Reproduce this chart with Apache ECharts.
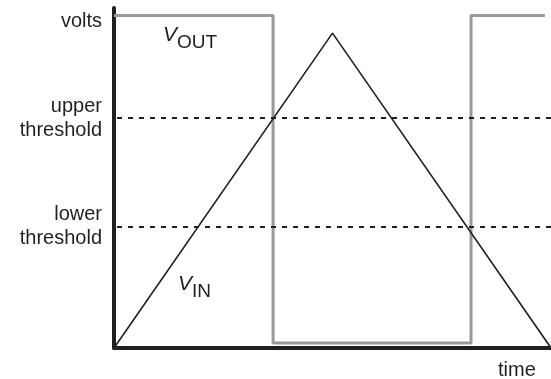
<!DOCTYPE html>
<head>
    <meta charset="UTF-8">
    <title>Schmitt trigger</title>
</head>
<body style="margin:0">
<div id="main" style="width:551px;height:379px"></div>
<script src="https://cdn.jsdelivr.net/npm/echarts@6/dist/echarts.min.js"></script>
<script type="text/javascript">
// time runs 0..100, volts run 0..100
var vinData = [[0, 0], [50, 92.6], [100, 0]];
var voutData = [[0, 97.8], [36.4, 97.8], [36.4, 1.5], [81.7, 1.5], [81.7, 97.8], [98.6, 97.8]];
var upperThreshold = 67.6;
var lowerThreshold = 35.6;
var tickValues = [lowerThreshold, upperThreshold, 96];
var tickLabels = ['lower\nthreshold', 'upper\nthreshold', 'volts'];

var ink = '#231f20';
var font = '"Liberation Sans", Arial, sans-serif';

var option = {
    backgroundColor: '#fff',
    animation: false,
    grid: {left: 114, right: 0, top: 8, bottom: 31},
    xAxis: {
        type: 'value', min: 0, max: 100,
        axisLine: {show: true, lineStyle: {color: ink, width: 4}},
        axisTick: {show: false},
        axisLabel: {show: false},
        splitLine: {show: false}
    },
    yAxis: {
        type: 'value', min: 0, max: 100,
        axisLine: {show: true, lineStyle: {color: ink, width: 4}},
        axisTick: {show: false},
        splitLine: {show: false},
        axisLabel: {
            customValues: tickValues,
            margin: 12,
            fontFamily: font, fontSize: 20, lineHeight: 24, color: ink,
            formatter: function (v) {
                var i = tickValues.indexOf(v);
                return i >= 0 ? tickLabels[i] : '';
            }
        }
    },
    series: [
        {
            name: 'threshold', type: 'line', data: [],
            markLine: {
                silent: true, symbol: 'none', label: {show: false},
                lineStyle: {color: ink, type: [5, 6], dashOffset: -3, width: 2},
                data: [{yAxis: upperThreshold}, {yAxis: lowerThreshold}]
            }
        },
        {
            name: 'vout', type: 'line', data: voutData, showSymbol: false,
            lineStyle: {color: '#999', width: 3}
        },
        {
            name: 'vin', type: 'line', data: vinData, showSymbol: false,
            lineStyle: {color: ink, width: 1.6}
        }
    ],
    graphic: [
        {type: 'text', left: 163, top: 25, style: {
            text: '{v|V}{s|OUT}', fill: ink,
            rich: {v: {fontFamily: font, fontSize: 21, fontStyle: 'italic', fill: ink, verticalAlign: 'top'},
                   s: {fontFamily: font, fontSize: 19, fill: ink, padding: [8, 0, 0, 0]}}
        }},
        {type: 'text', left: 178, top: 274, style: {
            text: '{v|V}{s|IN}', fill: ink,
            rich: {v: {fontFamily: font, fontSize: 21, fontStyle: 'italic', fill: ink, verticalAlign: 'top'},
                   s: {fontFamily: font, fontSize: 19, fill: ink, padding: [8, 0, 0, 0]}}
        }},
        {type: 'text', left: 498, top: 360, style: {
            text: 'time', fontFamily: font, fontSize: 20, fill: ink
        }}
    ]
};

var myChart = echarts.init(document.getElementById('main'));
myChart.setOption(option);
</script>
</body>
